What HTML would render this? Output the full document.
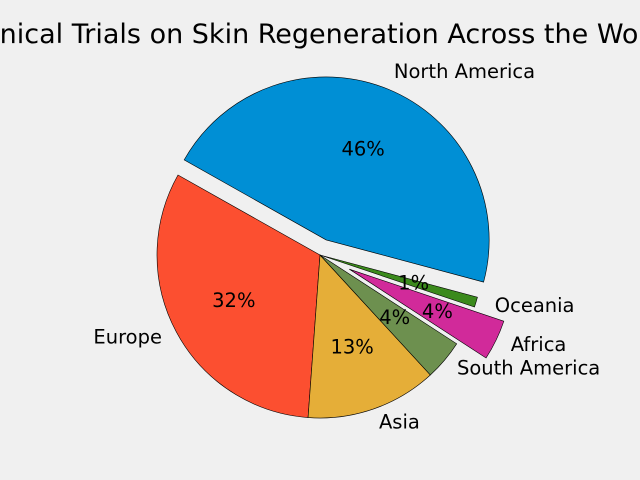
<!DOCTYPE html>
<html><head><meta charset="utf-8"><style>
html,body{margin:0;padding:0;background:#f0f0f0;}
svg{display:block;font-family:"DejaVu Sans","Liberation Sans",sans-serif;}
</style></head><body>
<svg id="chart" width="640" height="480" viewBox="0 0 640 480">
<rect width="640" height="480" fill="#f0f0f0"/>
<text x="320" y="43" text-anchor="middle" font-size="27" fill="#000">Clinical Trials on Skin Regeneration Across the World</text>
<g id="slices"></g>
</svg>
<script>
const categories = ["North America","Europe","Asia","South America","Africa","Oceania"];
const values = [46,32,13,4,4,1];
const explode = [0.1,0,0,0,0.2,0];
const colors = ["#008fd5","#fc4f30","#e5ae38","#6d904f","#d12a9a","#3b8a1c"];
const startAngle = -15;
const cx=320, cy=255, R=163;
const g=document.getElementById('slices');
const NS='http://www.w3.org/2000/svg';
const total=values.reduce((a,b)=>a+b,0);
let a0=startAngle;
function pt(ang,r,ox,oy){const t=ang*Math.PI/180;return [ox+r*Math.cos(t), oy-r*Math.sin(t)];}
values.forEach((v,i)=>{
  const span=v/total*360, a1=a0+span, mid=(a0+a1)/2;
  const [ox,oy]=pt(mid,explode[i]*R,cx,cy);
  const p0=pt(a0,R,ox,oy), p1=pt(a1,R,ox,oy);
  const path=document.createElementNS(NS,'path');
  path.setAttribute('d',`M${ox},${oy} L${p0[0]},${p0[1]} A${R},${R} 0 ${span>180?1:0} 0 ${p1[0]},${p1[1]} Z`);
  path.setAttribute('fill',colors[i]);
  path.setAttribute('stroke','#000');
  path.setAttribute('stroke-width','0.6');
  
  
  g.appendChild(path);
  const lr = (i===5) ? 1.12*R : 1.1*R;
  const lp=pt(mid,lr,ox,oy);
  const lt=document.createElementNS(NS,'text');
  lt.setAttribute('x',lp[0]); lt.setAttribute('y',lp[1]+4);
  lt.setAttribute('font-size','19.5');
  lt.setAttribute('text-anchor',Math.cos(mid*Math.PI/180)>=0?'start':'end');
  lt.textContent=categories[i];
  
  
  g.appendChild(lt);
  const pp=pt(mid,0.6*R,ox,oy);
  const pt2=document.createElementNS(NS,'text');
  pt2.setAttribute('x',pp[0]); pt2.setAttribute('y',pp[1]+6);
  pt2.setAttribute('font-size','19.5');
  pt2.setAttribute('text-anchor','middle');
  pt2.textContent=Math.round(v/total*100)+'%';
  
  
  g.appendChild(pt2);
  a0=a1;
});
</script>
</body></html>
